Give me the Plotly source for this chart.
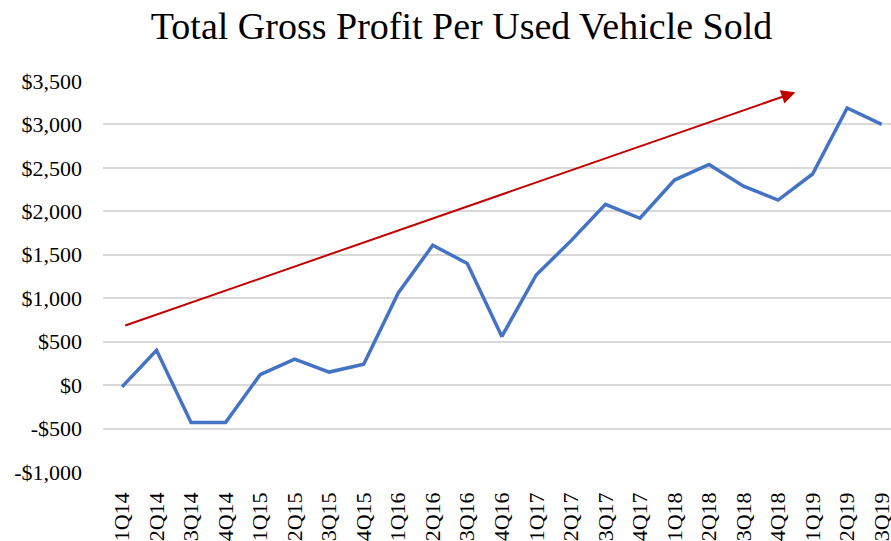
import plotly.graph_objects as go

quarters = ["1Q14", "2Q14", "3Q14", "4Q14", "1Q15", "2Q15", "3Q15", "4Q15",
            "1Q16", "2Q16", "3Q16", "4Q16", "1Q17", "2Q17", "3Q17", "4Q17",
            "1Q18", "2Q18", "3Q18", "4Q18", "1Q19", "2Q19", "3Q19"]
gross_profit = [-20, 400, -430, -430, 120, 300, 150, 240,
                1060, 1610, 1400, 560, 1270, 1660, 2080, 1920,
                2360, 2540, 2290, 2130, 2430, 3190, 3000]

y_ticks = [-1000, -500, 0, 500, 1000, 1500, 2000, 2500, 3000, 3500]
y_tick_labels = ["-$1,000", "-$500", "$0", "$500", "$1,000", "$1,500",
                 "$2,000", "$2,500", "$3,000", "$3,500"]

# trend arrow (category index, value)
trend_start = (0.05, 680)
trend_end = (19.5, 3370)

FONT = "Liberation Serif, Times New Roman, serif"

fig = go.Figure()
fig.add_trace(go.Scatter(
    x=quarters, y=gross_profit, mode="lines",
    line=dict(color="#4472C4", width=3.5),
    hoverinfo="skip", showlegend=False,
))

fig.add_annotation(
    x=trend_end[0], y=trend_end[1], ax=trend_start[0], ay=trend_start[1],
    xref="x", yref="y", axref="x", ayref="y",
    text="", showarrow=True, arrowhead=2, arrowsize=1.4, arrowwidth=2,
    arrowcolor="#C00000", standoff=0,
)

fig.update_layout(
    width=891, height=541,
    margin=dict(l=103, r=0, t=81, b=69, autoexpand=False),
    paper_bgcolor="white", plot_bgcolor="white",
    title=dict(text="Total Gross Profit Per Used Vehicle Sold",
               font=dict(family=FONT, size=38, color="black"),
               x=0.518, xanchor="center", y=0.952, yanchor="middle"),
    font=dict(family=FONT, color="black"),
)
fig.update_xaxes(
    type="category", range=[-0.55, 22.27], automargin=False,
    tickangle=-90, tickfont=dict(family=FONT, size=22, color="black"),
    showgrid=False, showline=False, ticks="", ticklabelstandoff=15,
)
fig.update_yaxes(
    range=[-1000, 3500], tickvals=y_ticks, ticktext=y_tick_labels,
    automargin=False,
    tickfont=dict(family=FONT, size=22, color="black"),
    showgrid=True, gridcolor="#D9D9D9", gridwidth=1.5,
    zeroline=False, showline=False, ticks="", ticklabelstandoff=20,
)

fig.write_html("out.html", config={"displayModeBar": False},
               post_script="document.body.style.margin='0';document.body.style.overflow='hidden';")
